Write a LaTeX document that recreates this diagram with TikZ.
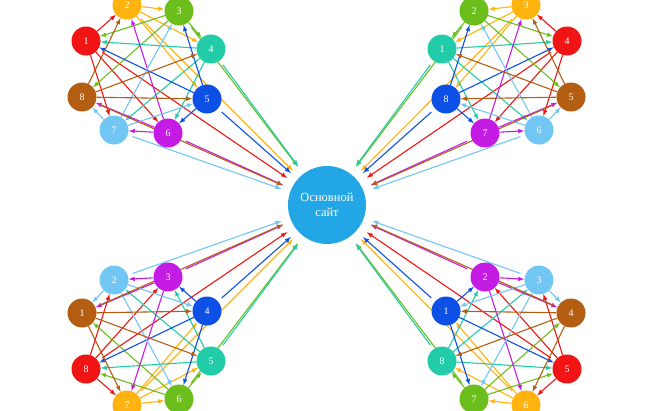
\documentclass[tikz,border=0pt]{standalone}
\usepackage{fontspec}
\setmainfont{Liberation Serif}
\usetikzlibrary{arrows}
\usetikzlibrary{backgrounds}

\definecolor{kras}{HTML}{F01414}
\definecolor{oranj}{HTML}{FFB30F}
\definecolor{zel}{HTML}{6BBE1C}
\definecolor{biruz}{HTML}{22CCA8}
\definecolor{sin}{HTML}{0D50E6}
\definecolor{fiol}{HTML}{C41CE4}
\definecolor{golub}{HTML}{72C6F4}
\definecolor{korich}{HTML}{B45E14}
\definecolor{osn}{HTML}{22A6E6}

\begin{document}
\begin{tikzpicture}[x=1pt,y=-1pt,
krug/.style={circle,inner sep=0pt,minimum size=29pt,text=white,font=\fontsize{10}{12}\selectfont},
sait/.style={circle,inner sep=0pt,minimum size=78pt,fill=osn,text=white,align=center,font=\fontsize{12.5}{15.5}\selectfont},
ksaitu/.style={shorten >=9pt,shorten <=5pt}
]
\useasboundingbox (0,0) rectangle (650,410);
\node[sait](s) at (327,205){Основной\\сайт};
%/////////////////////////////////////////////////////////
\node[krug,fill=kras](a1) at (86,41){1};
\node[krug,fill=oranj](a2) at (127,5){2};
\node[krug,fill=zel](a3) at (179,11){3};
\node[krug,fill=biruz](a4) at (211,49){4};
\node[krug,fill=sin](a5) at (207,99){5};
\node[krug,fill=fiol](a6) at (168,133){6};
\node[krug,fill=golub](a7) at (114,130){7};
\node[krug,fill=korich](a8) at (82,97){8};
%--
\node[krug,fill=biruz](b1) at (442,49){1};
\node[krug,fill=zel](b2) at (474,11){2};
\node[krug,fill=oranj](b3) at (526,5){3};
\node[krug,fill=kras](b4) at (567,41){4};
\node[krug,fill=korich](b5) at (571,97){5};
\node[krug,fill=golub](b6) at (539,130){6};
\node[krug,fill=fiol](b7) at (485,133){7};
\node[krug,fill=sin](b8) at (446,99){8};
%--
\node[krug,fill=korich](c1) at (82,313){1};
\node[krug,fill=golub](c2) at (114,280){2};
\node[krug,fill=fiol](c3) at (168,277){3};
\node[krug,fill=sin](c4) at (207,311){4};
\node[krug,fill=biruz](c5) at (211,361){5};
\node[krug,fill=zel](c6) at (179,399){6};
\node[krug,fill=oranj](c7) at (127,405){7};
\node[krug,fill=kras](c8) at (86,369){8};
%--
\node[krug,fill=sin](d1) at (446,311){1};
\node[krug,fill=fiol](d2) at (485,277){2};
\node[krug,fill=golub](d3) at (539,280){3};
\node[krug,fill=korich](d4) at (571,313){4};
\node[krug,fill=kras](d5) at (567,369){5};
\node[krug,fill=oranj](d6) at (526,405){6};
\node[krug,fill=zel](d7) at (474,399){7};
\node[krug,fill=biruz](d8) at (442,361){8};
%/////////////////////////////////////////////////////////
\begin{pgfonlayer}{background}
\begin{scope}[line width=1.1pt]
\draw [-latex,kras] (a1) -- (a2); \draw [-latex,kras] (a1) -- (a6); \draw [-latex,kras] (a1) -- (a7); \draw [-latex,kras,ksaitu] (a1) -- (s);
\draw [-latex,oranj] (a2) -- (a3); \draw [-latex,oranj] (a2) -- (a4); \draw [-latex,oranj] (a2) -- (a5); \draw [-latex,oranj,ksaitu] (a2) -- (s);
\draw [-latex,zel] (a3) -- (a1); \draw [-latex,zel] (a3) -- (a4); \draw [-latex,zel] (a3) -- (a8); \draw [-latex,zel,ksaitu] (a3) -- (s);
\draw [-latex,biruz] (a4) -- (a1); \draw [-latex,biruz] (a4) -- (a6); \draw [-latex,biruz] (a4) -- (a7); \draw [-latex,biruz,ksaitu] (a4) -- (s);
\draw [-latex,sin] (a5) -- (a1); \draw [-latex,sin] (a5) -- (a3); \draw [-latex,sin] (a5) -- (a6); \draw [-latex,sin,ksaitu] (a5) -- (s);
\draw [-latex,fiol] (a6) -- (a2); \draw [-latex,fiol] (a6) -- (a7); \draw [-latex,fiol] (a6) -- (a8); \draw [-latex,fiol,ksaitu] (a6) -- (s);
\draw [-latex,golub] (a7) -- (a3); \draw [-latex,golub] (a7) -- (a5); \draw [-latex,golub] (a7) -- (a8); \draw [-latex,golub,ksaitu] (a7) -- (s);
\draw [-latex,korich] (a8) -- (a2); \draw [-latex,korich] (a8) -- (a4); \draw [-latex,korich] (a8) -- (a5); \draw [-latex,korich,ksaitu] (a8) -- (s);
%--
\draw [-latex,kras] (b4) -- (b3); \draw [-latex,kras] (b4) -- (b7); \draw [-latex,kras] (b4) -- (b6); \draw [-latex,kras,ksaitu] (b4) -- (s);
\draw [-latex,oranj] (b3) -- (b2); \draw [-latex,oranj] (b3) -- (b1); \draw [-latex,oranj] (b3) -- (b8); \draw [-latex,oranj,ksaitu] (b3) -- (s);
\draw [-latex,zel] (b2) -- (b4); \draw [-latex,zel] (b2) -- (b1); \draw [-latex,zel] (b2) -- (b5); \draw [-latex,zel,ksaitu] (b2) -- (s);
\draw [-latex,biruz] (b1) -- (b4); \draw [-latex,biruz] (b1) -- (b7); \draw [-latex,biruz] (b1) -- (b6); \draw [-latex,biruz,ksaitu] (b1) -- (s);
\draw [-latex,sin] (b8) -- (b4); \draw [-latex,sin] (b8) -- (b2); \draw [-latex,sin] (b8) -- (b7); \draw [-latex,sin,ksaitu] (b8) -- (s);
\draw [-latex,fiol] (b7) -- (b3); \draw [-latex,fiol] (b7) -- (b6); \draw [-latex,fiol] (b7) -- (b5); \draw [-latex,fiol,ksaitu] (b7) -- (s);
\draw [-latex,golub] (b6) -- (b2); \draw [-latex,golub] (b6) -- (b8); \draw [-latex,golub] (b6) -- (b5); \draw [-latex,golub,ksaitu] (b6) -- (s);
\draw [-latex,korich] (b5) -- (b3); \draw [-latex,korich] (b5) -- (b1); \draw [-latex,korich] (b5) -- (b8); \draw [-latex,korich,ksaitu] (b5) -- (s);
%--
\draw [-latex,kras] (c8) -- (c7); \draw [-latex,kras] (c8) -- (c3); \draw [-latex,kras] (c8) -- (c2); \draw [-latex,kras,ksaitu] (c8) -- (s);
\draw [-latex,oranj] (c7) -- (c6); \draw [-latex,oranj] (c7) -- (c5); \draw [-latex,oranj] (c7) -- (c4); \draw [-latex,oranj,ksaitu] (c7) -- (s);
\draw [-latex,zel] (c6) -- (c8); \draw [-latex,zel] (c6) -- (c5); \draw [-latex,zel] (c6) -- (c1); \draw [-latex,zel,ksaitu] (c6) -- (s);
\draw [-latex,biruz] (c5) -- (c8); \draw [-latex,biruz] (c5) -- (c3); \draw [-latex,biruz] (c5) -- (c2); \draw [-latex,biruz,ksaitu] (c5) -- (s);
\draw [-latex,sin] (c4) -- (c8); \draw [-latex,sin] (c4) -- (c6); \draw [-latex,sin] (c4) -- (c3); \draw [-latex,sin,ksaitu] (c4) -- (s);
\draw [-latex,fiol] (c3) -- (c7); \draw [-latex,fiol] (c3) -- (c2); \draw [-latex,fiol] (c3) -- (c1); \draw [-latex,fiol,ksaitu] (c3) -- (s);
\draw [-latex,golub] (c2) -- (c6); \draw [-latex,golub] (c2) -- (c4); \draw [-latex,golub] (c2) -- (c1); \draw [-latex,golub,ksaitu] (c2) -- (s);
\draw [-latex,korich] (c1) -- (c7); \draw [-latex,korich] (c1) -- (c5); \draw [-latex,korich] (c1) -- (c4); \draw [-latex,korich,ksaitu] (c1) -- (s);
%--
\draw [-latex,kras] (d5) -- (d6); \draw [-latex,kras] (d5) -- (d2); \draw [-latex,kras] (d5) -- (d3); \draw [-latex,kras,ksaitu] (d5) -- (s);
\draw [-latex,oranj] (d6) -- (d7); \draw [-latex,oranj] (d6) -- (d8); \draw [-latex,oranj] (d6) -- (d1); \draw [-latex,oranj,ksaitu] (d6) -- (s);
\draw [-latex,zel] (d7) -- (d5); \draw [-latex,zel] (d7) -- (d8); \draw [-latex,zel] (d7) -- (d4); \draw [-latex,zel,ksaitu] (d7) -- (s);
\draw [-latex,biruz] (d8) -- (d5); \draw [-latex,biruz] (d8) -- (d2); \draw [-latex,biruz] (d8) -- (d3); \draw [-latex,biruz,ksaitu] (d8) -- (s);
\draw [-latex,sin] (d1) -- (d5); \draw [-latex,sin] (d1) -- (d7); \draw [-latex,sin] (d1) -- (d2); \draw [-latex,sin,ksaitu] (d1) -- (s);
\draw [-latex,fiol] (d2) -- (d6); \draw [-latex,fiol] (d2) -- (d3); \draw [-latex,fiol] (d2) -- (d4); \draw [-latex,fiol,ksaitu] (d2) -- (s);
\draw [-latex,golub] (d3) -- (d7); \draw [-latex,golub] (d3) -- (d1); \draw [-latex,golub] (d3) -- (d4); \draw [-latex,golub,ksaitu] (d3) -- (s);
\draw [-latex,korich] (d4) -- (d6); \draw [-latex,korich] (d4) -- (d8); \draw [-latex,korich] (d4) -- (d1); \draw [-latex,korich,ksaitu] (d4) -- (s);
\end{scope}
\end{pgfonlayer}
\end{tikzpicture}
\end{document}
